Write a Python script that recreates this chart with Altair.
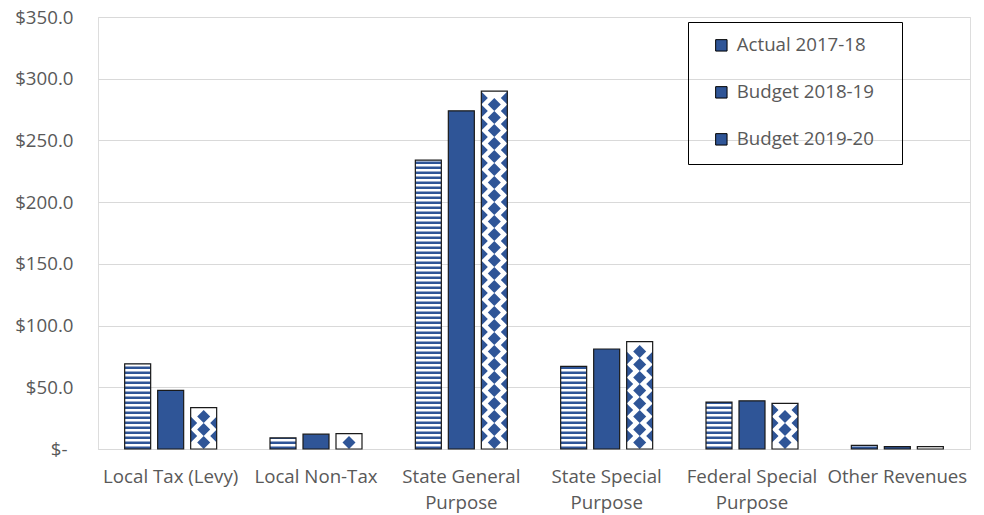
import altair as alt
import pandas as pd

# ---------------- data ----------------
CATEGORIES = [
    "Local Tax (Levy)",
    "Local Non-Tax",
    "State General\nPurpose",
    "State Special\nPurpose",
    "Federal Special\nPurpose",
    "Other Revenues",
]
SERIES = ["Actual 2017-18", "Budget 2018-19", "Budget 2019-20"]
ACTUAL_2017_18 = [69.0, 9.0, 234.0, 67.0, 38.0, 3.0]
BUDGET_2018_19 = [47.5, 12.0, 274.0, 81.0, 39.0, 2.0]
BUDGET_2019_20 = [33.5, 12.5, 290.0, 87.0, 37.0, 2.0]
Y_TICKS = [0, 50, 100, 150, 200, 250, 300, 350]

rows = []
for s, vals in zip(SERIES, [ACTUAL_2017_18, BUDGET_2018_19, BUDGET_2019_20]):
    for c, v in zip(CATEGORIES, vals):
        rows.append({"category": c, "series": s, "value": v})
df = pd.DataFrame(rows)

# ---------------- layout / style ----------------
PLOT_W, PLOT_H = 872, 432
Y_MAX = 350
BLUE = "#2F5597"
TEXT = "#595959"
GRID = "#D9D9D9"
FONT = "Open Sans"
FS = 18.7

BAR_W, GAP = 26, 7
band = PLOT_W / len(CATEGORIES)
step = BAR_W + GAP
p_inner = GAP / step
p_outer = (band / step - len(SERIES) + p_inner) / 2

PX_PER_UNIT = PLOT_H / Y_MAX
STRIPE = 5 / PX_PER_UNIT          # stripe period (data units)
DIAM = 13 / PX_PER_UNIT           # diamond row period (data units)
DIAM_HALF = 6.5 / PX_PER_UNIT     # diamond half height (data units)
SYM_SIZE = BAR_W ** 2             # symbol unit = half the bar width
CENTER_PATH = "M0,-0.5L0.5,0L0,0.5L-0.5,0Z"
EDGE_PATH = "M-1,-0.5L-0.5,0L-1,0.5ZM1,-0.5L0.5,0L1,0.5Z"

y_axis = alt.Axis(
    title=None,
    values=Y_TICKS,
    labelExpr="datum.value == 0 ? '$-' : '$' + format(datum.value, '.1f')",
    ticks=False,
    domain=False,
    grid=True,
    gridColor=GRID,
    gridWidth=1,
    labelPadding={"condition": {"test": "datum.value == 0", "value": 31}, "value": 25},
    labelFontSize=FS,
    labelColor=TEXT,
    labelFont=FONT,
)
y_scale = alt.Scale(domain=[0, Y_MAX], nice=False)

base = alt.Chart(df).encode(
    x=alt.X(
        "category:N",
        sort=CATEGORIES,
        scale=alt.Scale(paddingInner=0, paddingOuter=0),
        axis=alt.Axis(
            title=None,
            labelExpr="split(datum.label, '\\n')",
            labelAngle=0,
            ticks=False,
            domainColor=GRID,
            domainWidth=1,
            labelPadding=18,
            labelFontSize=FS,
            labelLineHeight=26,
            labelColor=TEXT,
            labelFont=FONT,
            labelLimit=200,
        ),
    ),
    xOffset=alt.XOffset(
        "series:N", sort=SERIES, scale=alt.Scale(paddingInner=p_inner, paddingOuter=p_outer)
    ),
)

bars = base.mark_bar().encode(
    y=alt.Y("value:Q", scale=y_scale, axis=y_axis),
    fill=alt.Fill(
        "series:N",
        sort=SERIES,
        scale=alt.Scale(domain=SERIES, range=[BLUE] * 3),
        legend=alt.Legend(
            title=None,
            orient="none",
            legendX=590,
            legendY=5,
            strokeColor="#000000",
            padding=14,
            symbolType="square",
            symbolSize=130,
            symbolStrokeColor="#000000",
            symbolStrokeWidth=1,
            symbolOffset=10,
            labelOffset=6,
            labelFontSize=FS,
            labelColor=TEXT,
            labelFont=FONT,
            rowPadding=27,
            labelExpr="datum.label + '\u2800'",
        ),
    ),
)

# white ground under the diamond-patterned series
white_ground = (
    base.transform_filter(alt.datum.series == SERIES[2])
    .mark_bar(color="#FFFFFF")
    .encode(y=alt.Y("value:Q", scale=y_scale, axis=y_axis))
)

stripes = (
    base.transform_filter(alt.datum.series == SERIES[0])
    .transform_calculate(k=f"sequence(0, datum.value, {STRIPE})")
    .transform_flatten(["k"])
    .transform_calculate(
        s0=f"datum.k + {STRIPE / 2}", s1=f"min(datum.k + {STRIPE}, datum.value)"
    )
    .transform_filter("datum.s0 < datum.value")
    .mark_bar(color="#FFFFFF")
    .encode(y=alt.Y("s0:Q", scale=y_scale, axis=y_axis), y2="s1:Q")
)

diam_center = (
    base.transform_filter(alt.datum.series == SERIES[2])
    .transform_calculate(k=f"sequence(0, datum.value, {DIAM})")
    .transform_flatten(["k"])
    .transform_calculate(yc=f"datum.k + {DIAM / 2}")
    .transform_filter(f"datum.yc + {DIAM_HALF * 0.85} <= datum.value")
    .mark_point(shape=CENTER_PATH, size=SYM_SIZE, filled=True, color=BLUE, opacity=1, strokeWidth=0)
    .encode(y=alt.Y("yc:Q", scale=y_scale, axis=y_axis))
)

diam_edge = (
    base.transform_filter(alt.datum.series == SERIES[2])
    .transform_calculate(k=f"sequence(0, datum.value, {DIAM})")
    .transform_flatten(["k"])
    .transform_calculate(yc=f"datum.k + {DIAM}")
    .transform_filter(f"datum.yc + {DIAM_HALF * 0.85} <= datum.value")
    .mark_point(shape=EDGE_PATH, size=SYM_SIZE, filled=True, color=BLUE, opacity=1, strokeWidth=0)
    .encode(y=alt.Y("yc:Q", scale=y_scale, axis=y_axis))
)

outline = base.mark_bar(fillOpacity=0, stroke="#1A1A1A", strokeWidth=1.2).encode(
    y=alt.Y("value:Q", scale=y_scale, axis=y_axis)
)

chart = (
    alt.layer(bars, white_ground, stripes, diam_center, diam_edge, outline)
    .properties(
        width=PLOT_W,
        height=PLOT_H,
        autosize=alt.AutoSizeParams(type="none"),
        padding={"left": 98, "top": 17, "right": 14, "bottom": 66},
    )
    .configure_view(stroke=None)
    .configure(background="#FFFFFF", font=FONT)
)

chart.save("out.html", embed_options={"renderer": "svg", "actions": False})
